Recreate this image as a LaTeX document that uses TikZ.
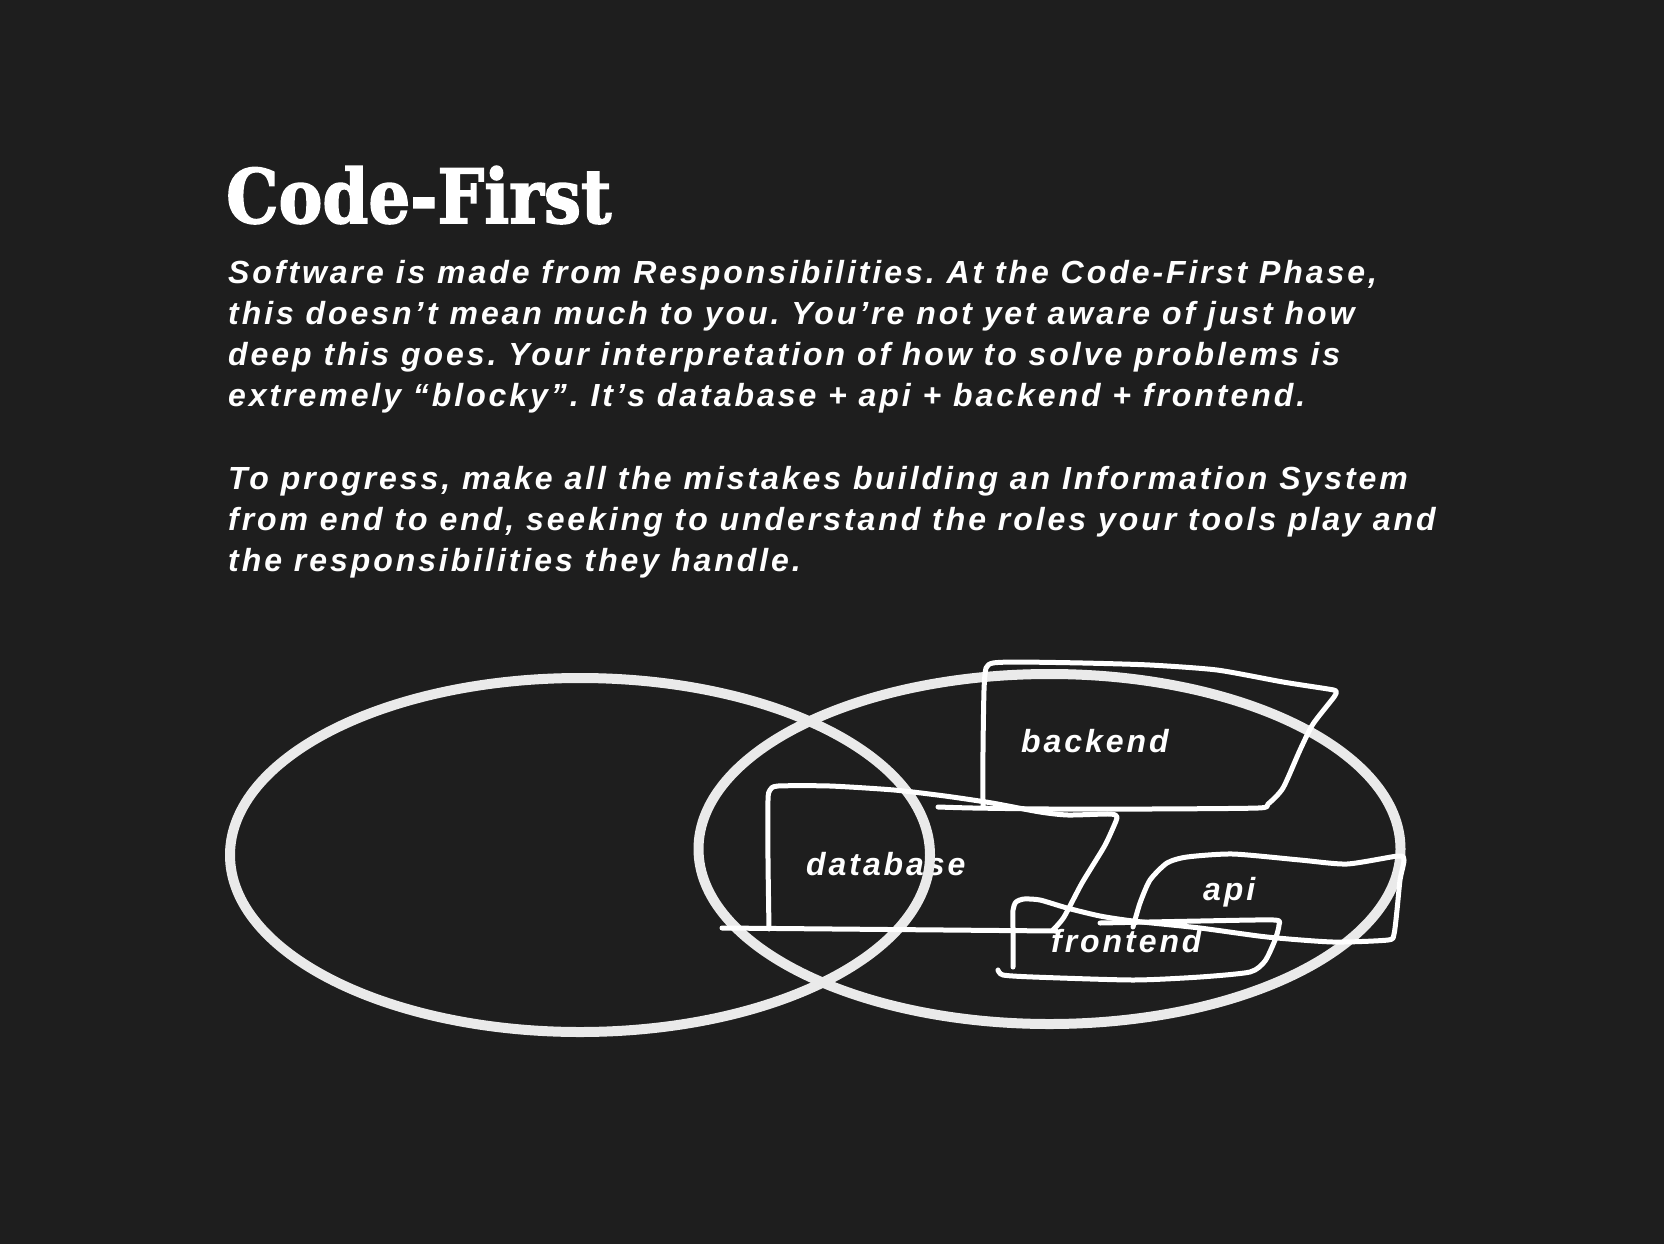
\documentclass[tikz,border=0pt]{standalone}
\usepackage{fontspec}
\newfontfamily\titlefont{DejaVu Serif Condensed Bold}[FakeBold=2]
\newfontfamily\bodyfont{Liberation Sans}[LetterSpace=9.2]
\definecolor{bg}{HTML}{1E1E1E}
\definecolor{ell}{HTML}{EAEAEA}
\frenchspacing
\begin{document}
\begin{tikzpicture}[x=1pt,y=-1pt,
  hand/.style={draw=white, line width=5pt, line cap=round, line join=round},
  ring/.style={draw=ell, line width=10pt},
  body/.style={anchor=base west, inner sep=0pt, text=white, font=\bodyfont\bfseries\itshape\fontsize{32}{41}\selectfont},
  lbl/.style={body}]
\fill[bg] (0,0) rectangle (1664,1244);
\useasboundingbox (0,0) rectangle (1664,1244);
\node[anchor=base west, inner sep=0pt, text=white, font=\titlefont\fontsize{75}{80}\selectfont, xscale=0.975] (title) at (226,223) {Code-First};
\node[body] (l1) at (228,283) {Software is made from Responsibilities. At the Code-First Phase,};
\node[body] (l2) at (228,324) {this doesn’t mean much to you. You’re not yet aware of just how};
\node[body] (l3) at (228,365) {deep this goes. Your interpretation of how to solve problems is};
\node[body] (l4) at (228,406) {extremely “blocky”. It’s database + api + backend + frontend.};
\node[body] (l6) at (228,489) {To progress, make all the mistakes building an Information System};
\node[body] (l7) at (228,530) {from end to end, seeking to understand the roles your tools play and};
\node[body] (l8) at (228,571) {the responsibilities they handle.};
% labels
\node[lbl] (backend) at (1021,752) {backend};
\node[lbl] (database) at (806,875) {database};
\node[lbl] (api) at (1203,900) {api};
\node[lbl] (frontend) at (1051,952) {frontend};
% ellipses
\draw[ring] (580,855) ellipse [x radius=350, y radius=177];
\draw[ring] (1049.5,849) ellipse [x radius=351, y radius=175];
% database
\draw[hand] (722,928) -- (1056,931);
\draw[hand] plot[smooth, tension=0.4] coordinates {(769,929) (768,860) (768,800) (770,790) (778,786) (830,786) (894,790) (945,796) (992,803) (1040,812) (1068,815) (1110,814) (1117,817) (1113,828) (1104,847) (1082,883) (1064,917) (1053,930)};
% backend
\draw[hand] plot[smooth, tension=0.4] coordinates {(938,807) (973,808) (1050,809) (1150,809) (1258,808) (1268,804) (1283,788) (1300,750) (1313,724) (1334,697) (1336,691) (1328,689) (1283,682) (1217,670) (1150,665) (1083,663) (1017,662) (993,663) (986,668) (984,690) (983,750) (983,806)};
% frontend + api stroke
\draw[hand] plot[smooth, tension=0.4] coordinates {(1013,967) (1013,930) (1013,910) (1016,902) (1024,899) (1040,900) (1067,908) (1100,916) (1133,921) (1200,928) (1267,937) (1333,942) (1388,940) (1394,934) (1397,910) (1400,880) (1404,860) (1398,856) (1347,864) (1300,860) (1233,854) (1187,857) (1167,863) (1150,880) (1140,903) (1133,927)};
% frontend
\draw[hand] plot[smooth, tension=0.4] coordinates {(1100,923) (1200,921) (1274,920) (1279,925) (1275,940) (1265,961) (1250,972) (1200,977) (1133,980) (1033,977) (1003,975) (998,970)};
\end{tikzpicture}
\end{document}
